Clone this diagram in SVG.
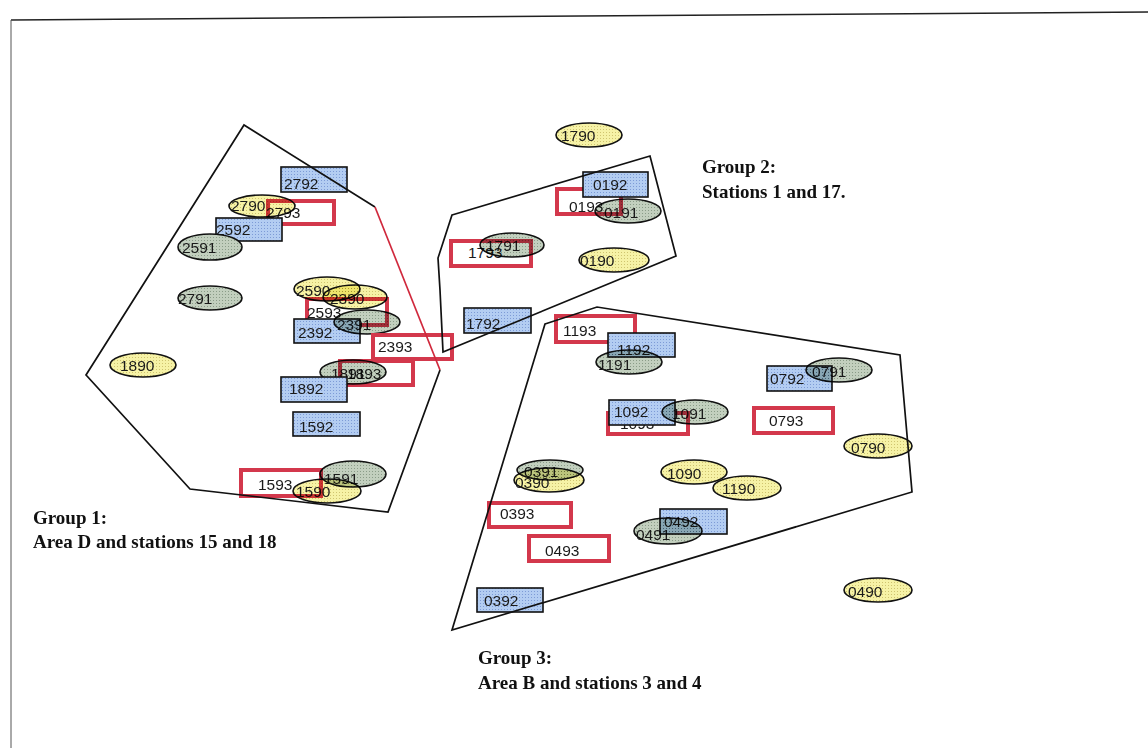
<svg xmlns="http://www.w3.org/2000/svg" width="1148" height="748" viewBox="0 0 1148 748">
<defs>
<pattern id="pb" width="3" height="3" patternUnits="userSpaceOnUse"><rect width="3" height="3" fill="#b3cdf2"/><rect width="1" height="1" fill="#7d9bd6"/></pattern>
<pattern id="pg" width="3" height="3" patternUnits="userSpaceOnUse"><rect width="3" height="3" fill="#c2cfbe"/><rect width="1" height="1" fill="#8a9c88"/></pattern>
<pattern id="py" width="3" height="3" patternUnits="userSpaceOnUse"><rect width="3" height="3" fill="#f6f2a6"/><rect width="1" height="1" fill="#cfc470"/></pattern>
</defs>
<style>
.b{fill:url(#pb);stroke:#111;stroke-width:1.6}
.r{fill:#fff;stroke:#d3384c;stroke-width:4}
.g{fill:url(#pg);stroke:#111;stroke-width:1.6}
.y{fill:url(#py);stroke:#111;stroke-width:1.6}
.m{mix-blend-mode:multiply}
.t{font-family:"Liberation Sans",Arial,sans-serif;font-size:15.5px;fill:#1a1a1a}
.lab{font-family:"Liberation Serif","Times New Roman",serif;font-size:19px;font-weight:bold;fill:#111}
.poly{fill:none;stroke:#111;stroke-width:1.7}
</style>
<rect width="1148" height="748" fill="#fff"/>
<g id="page">
<line x1="11" y1="20" x2="1148" y2="12" stroke="#222" stroke-width="1.5"/>
<line x1="11" y1="20" x2="11" y2="748" stroke="#555" stroke-width="1"/>
</g>
<g id="n1890"><ellipse class="y" cx="143" cy="365" rx="33" ry="12"/><text class="t" x="120" y="371">1890</text></g>
<g id="n2791"><ellipse class="g" cx="210" cy="298" rx="32" ry="12"/><text class="t" x="178" y="304">2791</text></g>
<g id="n2792"><rect class="b" x="281" y="167" width="66" height="25"/><text class="t" x="284" y="189">2792</text></g>
<g id="n2793"><rect class="r" x="268" y="201" width="66" height="23"/><text class="t" x="266" y="218">2793</text></g>
<g id="n2790" class="m"><ellipse class="y" cx="262" cy="206" rx="33" ry="11"/><text class="t" x="231" y="211">2790</text></g>
<g id="n2592"><rect class="b" x="216" y="218" width="66" height="23"/><text class="t" x="216" y="235">2592</text></g>
<g id="n2591"><ellipse class="g" cx="210" cy="247" rx="32" ry="13"/><text class="t" x="182" y="253">2591</text></g>
<g id="n2593"><rect class="r" x="307" y="299" width="80" height="26"/><text class="t" x="307" y="318">2593</text></g>
<g id="n2390" class="m"><ellipse class="y" cx="355" cy="297" rx="32" ry="12"/><text class="t" x="330" y="304">2390</text></g>
<g id="n2590" class="m"><ellipse class="y" cx="327" cy="289" rx="33" ry="12"/><text class="t" x="296" y="296">2590</text></g>
<g id="n2392"><rect class="b" x="294" y="319" width="66" height="24"/><text class="t" x="298" y="338">2392</text></g>
<g id="n2391" class="m"><ellipse class="g" cx="367" cy="322" rx="33" ry="12"/><text class="t" x="337" y="330">2391</text></g>
<g id="n2393"><rect class="r" x="373" y="335" width="79" height="24"/><text class="t" x="378" y="352">2393</text></g>
<g id="n1893"><rect class="r" x="340" y="361" width="73" height="24"/><text class="t" x="347" y="379">1893</text></g>
<g id="n1891" class="m"><ellipse class="g" cx="353" cy="372" rx="33" ry="12"/><text class="t" x="331" y="379">1891</text></g>
<g id="n1892"><rect class="b" x="281" y="377" width="66" height="25"/><text class="t" x="289" y="394">1892</text></g>
<g id="n1592"><rect class="b" x="293" y="412" width="67" height="24"/><text class="t" x="299" y="432">1592</text></g>
<g id="n1593"><rect class="r" x="241" y="470" width="80" height="26"/><text class="t" x="258" y="490">1593</text></g>
<g id="n1591" class="m"><ellipse class="g" cx="353" cy="474" rx="33" ry="13"/><text class="t" x="324" y="484">1591</text></g>
<g id="n1590" class="m"><ellipse class="y" cx="327" cy="491" rx="34" ry="12"/><text class="t" x="296" y="497">1590</text></g>

<g id="n1790"><ellipse class="y" cx="589" cy="135" rx="33" ry="12"/><text class="t" x="561" y="141">1790</text></g>
<g id="n0193"><rect class="r" x="557" y="189" width="64" height="25"/><text class="t" x="569" y="212">0193</text></g>
<g id="n0192"><rect class="b" x="583" y="172" width="65" height="25"/><text class="t" x="593" y="190">0192</text></g>
<g id="n0191" class="m"><ellipse class="g" cx="628" cy="211" rx="33" ry="12"/><text class="t" x="604" y="218">0191</text></g>
<g id="n1793"><rect class="r" x="451" y="241" width="80" height="25"/><text class="t" x="468" y="258">1793</text></g>
<g id="n1791" class="m"><ellipse class="g" cx="512" cy="245" rx="32" ry="12"/><text class="t" x="486" y="251">1791</text></g>
<g id="n0190"><ellipse class="y" cx="614" cy="260" rx="35" ry="12"/><text class="t" x="580" y="266">0190</text></g>
<g id="n1792"><rect class="b" x="464" y="308" width="67" height="25"/><text class="t" x="466" y="329">1792</text></g>

<g id="n1193"><rect class="r" x="556" y="316" width="79" height="26"/><text class="t" x="563" y="336">1193</text></g>
<g id="n1192"><rect class="b" x="608" y="333" width="67" height="24"/><text class="t" x="617" y="355">1192</text></g>
<g id="n1191" class="m"><ellipse class="g" cx="629" cy="362" rx="33" ry="12"/><text class="t" x="598" y="370">1191</text></g>
<g id="n1093"><rect class="r" x="608" y="413" width="80" height="21"/><text class="t" x="620" y="429">1093</text></g>
<g id="n1092"><rect class="b" x="609" y="400" width="66" height="25"/><text class="t" x="614" y="417">1092</text></g>
<g id="n1091" class="m"><ellipse class="g" cx="695" cy="412" rx="33" ry="12"/><text class="t" x="672" y="419">1091</text></g>
<g id="n0792"><rect class="b" x="767" y="366" width="65" height="25"/><text class="t" x="770" y="384">0792</text></g>
<g id="n0791" class="m"><ellipse class="g" cx="839" cy="370" rx="33" ry="12"/><text class="t" x="812" y="377">0791</text></g>
<g id="n0793"><rect class="r" x="754" y="408" width="79" height="25"/><text class="t" x="769" y="426">0793</text></g>
<g id="n0790"><ellipse class="y" cx="878" cy="446" rx="34" ry="12"/><text class="t" x="851" y="453">0790</text></g>
<g id="n1090"><ellipse class="y" cx="694" cy="472" rx="33" ry="12"/><text class="t" x="667" y="479">1090</text></g>
<g id="n1190"><ellipse class="y" cx="747" cy="488" rx="34" ry="12"/><text class="t" x="722" y="494">1190</text></g>
<g id="n0391"><ellipse class="g" cx="550" cy="470" rx="33" ry="10"/><text class="t" x="524" y="477">0391</text></g>
<g id="n0390" class="m"><ellipse class="y" cx="549" cy="480" rx="35" ry="12"/><text class="t" x="515" y="488">0390</text></g>
<g id="n0393"><rect class="r" x="489" y="503" width="82" height="24"/><text class="t" x="500" y="519">0393</text></g>
<g id="n0493"><rect class="r" x="529" y="536" width="80" height="25"/><text class="t" x="545" y="556">0493</text></g>
<g id="n0492"><rect class="b" x="660" y="509" width="67" height="25"/><text class="t" x="664" y="527">0492</text></g>
<g id="n0491" class="m"><ellipse class="g" cx="668" cy="531" rx="34" ry="13"/><text class="t" x="636" y="540">0491</text></g>
<g id="n0392"><rect class="b" x="477" y="588" width="66" height="24"/><text class="t" x="484" y="606">0392</text></g>
<g id="n0490"><ellipse class="y" cx="878" cy="590" rx="34" ry="12"/><text class="t" x="848" y="597">0490</text></g>

<g id="connectors">
<polyline class="poly" points="375,207 244,125 86,375 190,489 388,512 440,370"/>
<line x1="375" y1="207" x2="440" y2="370" stroke="#d0283c" stroke-width="1.7"/>
<polygon class="poly" points="452,215 650,156 676,256 443,352 440,290 438,258"/>
<polygon class="poly" points="545,324 597,307 900,355 912,492 452,630"/>
</g>
<g id="labels">
<text class="lab" x="702" y="173">Group 2:</text>
<text class="lab" x="702" y="198">Stations 1 and 17.</text>
<text class="lab" x="33" y="524">Group 1:</text>
<text class="lab" x="33" y="548">Area D and stations 15 and 18</text>
<text class="lab" x="478" y="664">Group 3:</text>
<text class="lab" x="478" y="689">Area B and stations 3 and 4</text>
</g>
</svg>
